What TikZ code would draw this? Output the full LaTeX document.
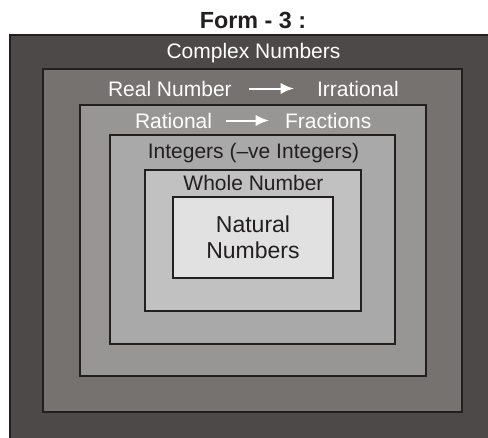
\documentclass[tikz,border=0pt]{standalone}
\usepackage{fontspec}
\setmainfont{Liberation Sans}
\usetikzlibrary{arrows.meta}
\definecolor{bordc}{RGB}{35,31,32}
\definecolor{cA}{RGB}{77,73,72}
\definecolor{cB}{RGB}{117,114,112}
\definecolor{cC}{RGB}{151,150,148}
\definecolor{cD}{RGB}{169,169,170}
\definecolor{cE}{RGB}{193,193,193}
\definecolor{cF}{RGB}{225,225,225}
\tikzset{
  box/.style={draw=bordc, line width=1.5pt, inner sep=0pt, outer sep=0pt},
  lbl/.style={inner sep=0pt, outer sep=0pt, font=\fontsize{15.75}{18}\selectfont},
  wlbl/.style={lbl, text=white},
  dlbl/.style={lbl, text=bordc},
  arr/.style={white, line width=1.5pt, -{Latex[length=10pt,width=8.5pt]}}
}
\begin{document}
\begin{tikzpicture}[x=0.75pt,y=-0.75pt]
\clip (0,0) rectangle (488,437);
\useasboundingbox (0,0) rectangle (488,437);
\fill[white] (0,0) rectangle (488,437);
\node[box, fill=cA, minimum width=367.5pt, minimum height=311.25pt] (complex) at (255,242.5) {};
\node[box, fill=cB, minimum width=314.25pt, minimum height=257.25pt] (real) at (252.5,240.5) {};
\node[box, fill=cC, minimum width=259.5pt, minimum height=203.25pt] (rational) at (253,240.5) {};
\node[box, fill=cD, minimum width=213.75pt, minimum height=156.75pt] (integers) at (252.5,239.5) {};
\node[box, fill=cE, minimum width=162pt, minimum height=105.75pt] (whole) at (253,240.5) {};
\node[box, fill=cF, minimum width=120pt, minimum height=60.75pt] (natural) at (253,237.5) {};
\node[lbl, anchor=base, text=bordc, font=\fontsize{17.5}{20}\selectfont\bfseries] (title) at (253,28) {Form - 3 :};
\node[wlbl, anchor=base] (tcomplex) at (253.5,58) {Complex Numbers};
\node[wlbl, anchor=base west] (treal) at (108,96) {Real Number};
\node[wlbl, anchor=base west] (tirr) at (317,96) {Irrational};
\draw[arr, shorten <=12.75pt, shorten >=17.25pt] (treal.east) -- (tirr.west);
\node[wlbl, anchor=base west] (trat) at (135,128) {Rational};
\node[wlbl, anchor=base west] (tfrac) at (285,128) {Fractions};
\draw[arr, shorten <=10.5pt, shorten >=12pt] (trat.east) -- (tfrac.west);
\node[dlbl, anchor=base] (tint) at (253.5,158) {Integers (–ve Integers)};
\node[dlbl, anchor=base] (twhole) at (253.5,190) {Whole Number};
\node[dlbl, anchor=base, align=center, font=\fontsize{17.25}{19.5}\selectfont] (tnat) at (253,258) {Natural\\Numbers};
\end{tikzpicture}
\end{document}
